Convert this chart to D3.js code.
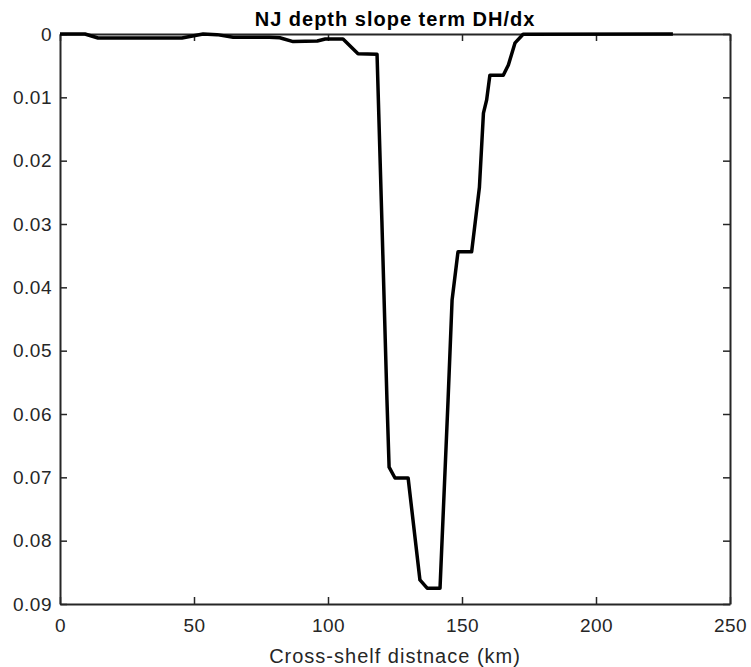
<!DOCTYPE html>
<html>
<head>
<meta charset="utf-8">
<script src="https://cdn.jsdelivr.net/npm/d3@7"></script>
<style>
  body { margin: 0; background: #fff; }
  text { font-family: "Liberation Sans", Arial, sans-serif; fill: #262626; }
</style>
</head>
<body>
<svg width="751" height="667"></svg>
<script>
// cross-shelf distance (km) and depth slope term
const distKm = [0, 9.3, 14.2, 45.5, 53.4, 58.6, 64.6, 78, 82, 87, 96, 99, 105.6, 111.2, 118.3,
  120.1, 122, 122.8, 125, 129.9, 134.3, 137, 141.8, 144.8, 146.3, 148.5, 153.6, 156.5, 158,
  159.2, 160.4, 165.4, 167.3, 169.8, 172.8, 228.7];
const slope = [0, 0, 0.00063, 0.00063, 0, 0.0001, 0.0005, 0.0005, 0.0006, 0.0012, 0.0011, 0.0008, 0.0008, 0.0031, 0.0032,
  0.0294, 0.0578, 0.0684, 0.0701, 0.0701, 0.0862, 0.0875, 0.0875, 0.0578, 0.042, 0.0344, 0.0344, 0.0242, 0.0125,
  0.0104, 0.0065, 0.0065, 0.0049, 0.0014, 0.00005, 0];

const xTicks = [0, 50, 100, 150, 200, 250];
const yTicks = [0, 0.01, 0.02, 0.03, 0.04, 0.05, 0.06, 0.07, 0.08, 0.09];

const svg = d3.select("svg");
const mLeft = 60, mRight = 730, mTop = 34, mBottom = 604;

const x = d3.scaleLinear().domain([0, 250]).range([mLeft, mRight]);
const y = d3.scaleLinear().domain([0, 0.09]).range([mTop, mBottom]);

const yFmt = d => d === 0 ? "0" : d3.format(".2f")(d);

// axes
const gx = svg.append("g")
  .attr("transform", `translate(0,${mBottom})`)
  .call(d3.axisBottom(x).tickValues(xTicks).tickSize(-7).tickSizeOuter(0).tickPadding(15));
const gy = svg.append("g")
  .attr("transform", `translate(${mLeft},0)`)
  .call(d3.axisLeft(y).tickValues(yTicks).tickFormat(yFmt).tickSize(-7).tickSizeOuter(0).tickPadding(8));
const gt = svg.append("g")
  .attr("transform", `translate(0,${mTop})`)
  .call(d3.axisTop(x).tickValues(xTicks).tickFormat("").tickSize(-7).tickSizeOuter(0));
const gr = svg.append("g")
  .attr("transform", `translate(${mRight},0)`)
  .call(d3.axisRight(y).tickValues(yTicks).tickFormat("").tickSize(-7).tickSizeOuter(0));

[gx, gy, gt, gr].forEach(g => {
  g.select(".domain").attr("stroke", "#262626").attr("stroke-width", 2);
  g.selectAll(".tick line").attr("stroke", "#262626").attr("stroke-width", 1.5);
  g.selectAll(".tick text")
    .style("font-family", "'Liberation Sans', Arial, sans-serif")
    .style("font-size", "19px")
    .style("letter-spacing", "0.5px")
    .attr("fill", "#262626");
});

// line
const line = d3.line()
  .x((d, i) => x(distKm[i]))
  .y(d => y(d));

svg.append("path")
  .datum(slope)
  .attr("fill", "none")
  .attr("stroke", "#000")
  .attr("stroke-width", 3.5)
  .attr("stroke-linejoin", "round")
  .attr("d", line);

// title and label
svg.append("text")
  .attr("x", (mLeft + mRight) / 2)
  .attr("y", 26)
  .attr("text-anchor", "middle")
  .style("font-size", "20px")
  .style("letter-spacing", "1px")
  .style("font-weight", "bold")
  .style("fill", "#000")
  .text("NJ depth slope term DH/dx");

svg.append("text")
  .attr("x", (mLeft + mRight) / 2)
  .attr("y", 663)
  .attr("text-anchor", "middle")
  .style("font-size", "20px")
  .style("letter-spacing", "1px")
  .text("Cross-shelf distnace (km)");
</script>
</body>
</html>
